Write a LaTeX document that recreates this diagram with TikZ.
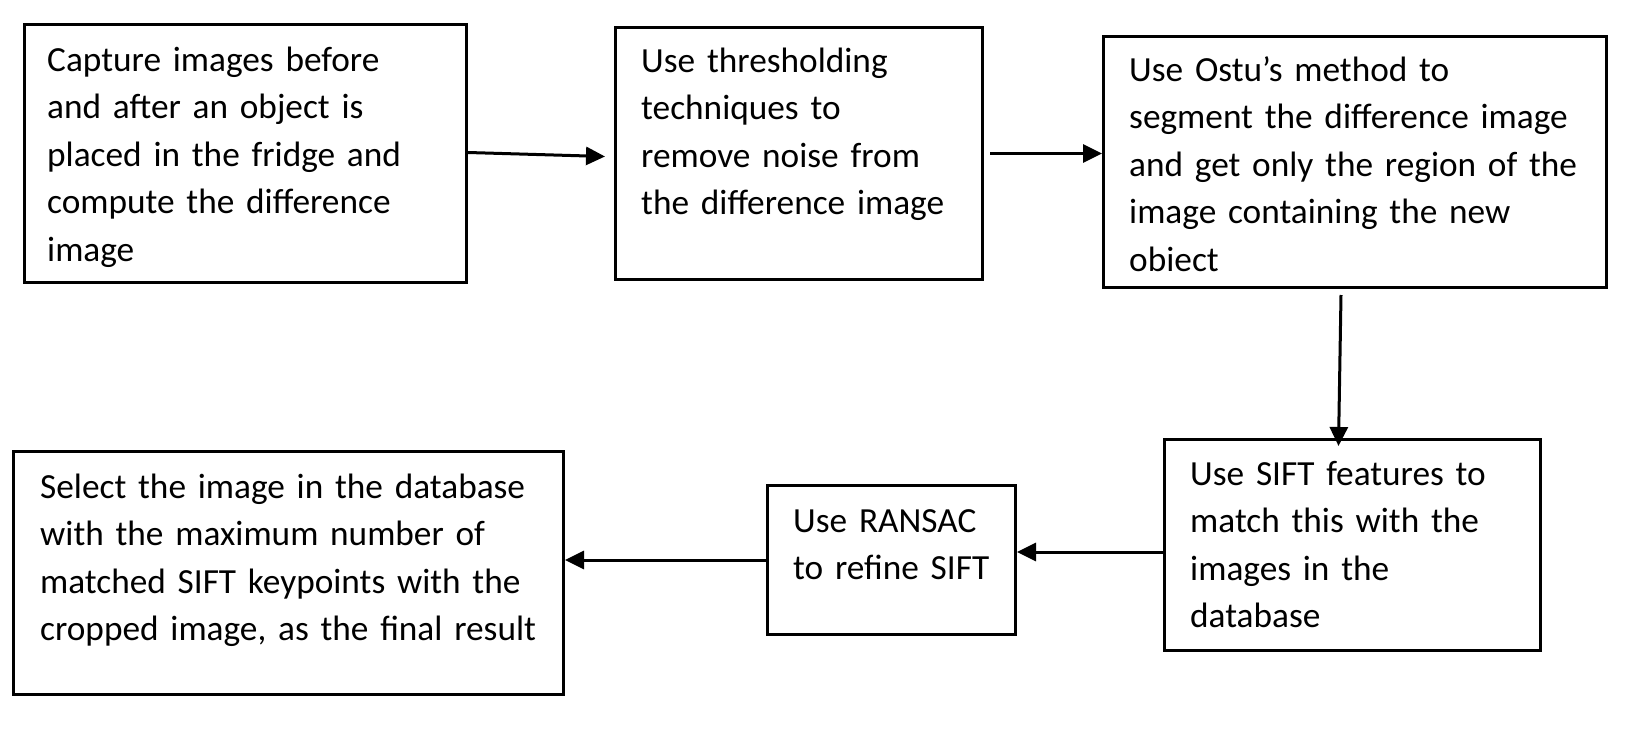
\documentclass[tikz,border=0pt]{standalone}
\usepackage{fontspec}
\setmainfont{Carlito}
\usetikzlibrary{arrows.meta}

\tikzset{
 box/.style={draw, line width=3pt, anchor=north west, inner sep=0pt},
 txt/.style={anchor=base west, align=left, inner sep=0pt, text width=#1, font=\fontsize{35.3}{47.6}\selectfont},
 arr/.style={line width=3pt, -{Triangle[length=19pt,width=18pt]}},
}

\begin{document}
\begin{tikzpicture}[x=1pt,y=-1pt]
 \useasboundingbox (0,0) rectangle (1626,736); %全体
 \node[box, minimum width=442pt, minimum height=258pt] (capture) at (23,23) {}; %箱1
 \node[box, minimum width=367pt, minimum height=252pt] (thresh) at (614,26) {}; %箱2
 \node[box, minimum width=503pt, minimum height=251pt] (ostu) at (1102,35) {}; %箱3
 \node[box, minimum width=376pt, minimum height=211pt] (sift) at (1163,438) {}; %箱4
 \node[box, minimum width=248pt, minimum height=149pt] (ransac) at (766,484) {}; %箱5
 \node[box, minimum width=550pt, minimum height=243pt] (select) at (12,450) {}; %箱6
 \node[txt=420pt] (captureT) at (47,71) {Capture images before\\and after an object is\\placed in the fridge and\\compute the difference\\image}; %文1
 \node[txt=340pt] (threshT) at (641,72) {Use thresholding\\techniques to\\remove noise from\\the difference image}; %文2
 \node[txt=470pt] (ostuT) at (1129,81) {Use Ostu’s method to\\segment the difference image\\and get only the region of the\\image containing the new\\obiect}; %文3
 \node[txt=340pt] (siftT) at (1190,485) {Use SIFT features to\\match this with the\\images in the\\database}; %文4
 \node[txt=220pt] (ransacT) at (793,532) {Use RANSAC\\to refine SIFT}; %文5
 \node[txt=520pt] (selectT) at (40,498) {Select the image in the database\\with the maximum number of\\matched SIFT keypoints with the\\cropped image, as the final result}; %文6
 \draw[arr] ([yshift=1pt]capture.east) -- ([xshift=-9pt,yshift=-3pt]thresh.west); %矢印1
 \draw[arr] ([xshift=6pt]thresh.east) -- (thresh.east -| ostu.west); %矢印2
 \draw[arr] ([xshift=-14pt,yshift=-6pt]ostu.south) -- ([xshift=-14pt,yshift=-8pt]sift.north); %矢印3
 \draw[arr] ([yshift=-7pt]sift.west) -- ([yshift=-7pt]sift.west -| ransac.east); %矢印4
 \draw[arr] (ransac.west) -- (ransac.west -| select.east); %矢印5
\end{tikzpicture}
\end{document}
